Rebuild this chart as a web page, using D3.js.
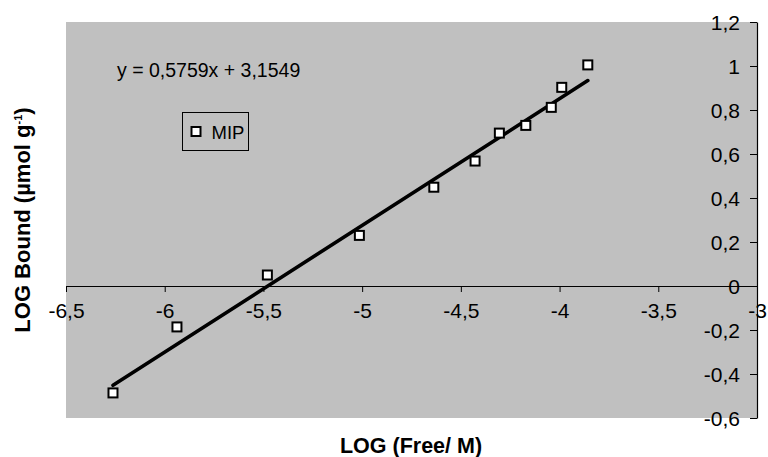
<!DOCTYPE html>
<html>
<head>
<meta charset="utf-8">
<script src="https://cdn.jsdelivr.net/npm/d3@7"></script>
<style>
  body { margin: 0; background: #fff; }
  svg { display: block; font-family: "Liberation Sans", Arial, sans-serif; }
</style>
</head>
<body>
<svg id="drawing_region"></svg>
<script>
// data
const logFree  = [-6.262, -5.938, -5.480, -5.014, -4.637, -4.428, -4.305, -4.171, -4.042, -3.989, -3.857];
const logBound = [-0.486, -0.186, 0.050, 0.230, 0.449, 0.568, 0.695, 0.730, 0.812, 0.903, 1.005];
const xTicks = [-6.5, -6, -5.5, -5, -4.5, -4, -3.5, -3];
const yTicks = [-0.6, -0.4, -0.2, 0, 0.2, 0.4, 0.6, 0.8, 1, 1.2];
const slope = 0.5759;
const intercept = 3.1549;
const seriesName = 'MIP';

const config = {
    width: 768,
    height: 457,
    margin: {top: 22, right: 11, bottom: 39, left: 66}
};

const svg = d3.select('#drawing_region')
    .attr('width', config.width)
    .attr('height', config.height);

const inner_width = config.width - config.margin.left - config.margin.right;
const inner_height = config.height - config.margin.top - config.margin.bottom;

const chart = svg.append('g')
    .attr('transform', `translate(${config.margin.left}, ${config.margin.top})`);

const xscale = d3.scaleLinear().domain([-6.5, -3]).range([0, inner_width]);
const yscale = d3.scaleLinear().domain([-0.6, 1.2]).range([inner_height, 0]);

const fmt = d => String(+d.toFixed(1)).replace('.', ',');

// plot area
chart.append('rect')
    .attr('width', inner_width)
    .attr('height', inner_height)
    .attr('fill', '#c0c0c0');

// x axis through y = 0
const xaxis = d3.axisBottom(xscale)
    .tickValues(xTicks)
    .tickSize(6)
    .tickSizeOuter(0)
    .tickFormat(fmt);

const xg = chart.append('g')
    .attr('transform', `translate(0, ${yscale(0)})`)
    .call(xaxis);
xg.select('.domain').attr('stroke', '#000').attr('stroke-width', 1.2);
xg.selectAll('.tick line').attr('stroke', '#000');
xg.selectAll('.tick text')
    .attr('y', 32)
    .attr('dy', 0)
    .style('font-size', '21px')
    .style('font-family', '"Liberation Sans", Arial, sans-serif')
    .attr('fill', '#000');

// y axis at x = -3 (right edge)
const yaxis = d3.axisLeft(yscale)
    .tickValues(yTicks)
    .tickSize(7)
    .tickSizeOuter(0)
    .tickFormat(fmt);

const yg = chart.append('g')
    .attr('transform', `translate(${xscale(-3)}, 0)`)
    .call(yaxis);
yg.select('.domain').attr('stroke', '#000').attr('stroke-width', 1.2);
yg.selectAll('.tick line').attr('stroke', '#000');
yg.selectAll('.tick text')
    .attr('x', -17)
    .attr('dy', '0.36em')
    .style('font-size', '21px')
    .style('font-family', '"Liberation Sans", Arial, sans-serif')
    .attr('fill', '#000');

// trend line
const xmin = d3.min(logFree), xmax = d3.max(logFree);
const trend = [xmin, xmax].map(x => [x, slope * x + intercept]);
chart.append('path')
    .attr('d', d3.line().x(d => xscale(d[0])).y(d => yscale(d[1]))(trend))
    .attr('stroke', '#000')
    .attr('stroke-width', 3.6)
    .attr('stroke-linecap', 'round')
    .attr('fill', 'none');

// points
const pts = logFree.map((x, i) => ({x: x, y: logBound[i]}));
chart.selectAll('rect.pt')
    .data(pts)
    .enter()
    .append('rect')
    .attr('class', 'pt')
    .attr('x', d => xscale(d.x) - 4.5)
    .attr('y', d => yscale(d.y) - 4.5)
    .attr('width', 9)
    .attr('height', 9)
    .attr('fill', '#fff')
    .attr('stroke', '#000')
    .attr('stroke-width', 2);

// equation
svg.append('text')
    .attr('x', 117)
    .attr('y', 77)
    .style('font-size', '19.5px')
    .text(`y = ${String(slope).replace('.', ',')}x + ${String(intercept).replace('.', ',')}`);

// legend
const legend = svg.append('g').attr('transform', 'translate(182.5, 112.5)');
legend.append('rect')
    .attr('width', 66)
    .attr('height', 38)
    .attr('fill', 'none')
    .attr('stroke', '#000')
    .attr('stroke-width', 1);
legend.append('rect')
    .attr('x', 9)
    .attr('y', 14.5)
    .attr('width', 9)
    .attr('height', 9)
    .attr('fill', '#fff')
    .attr('stroke', '#000')
    .attr('stroke-width', 2);
legend.append('text')
    .attr('x', 29)
    .attr('y', 26)
    .style('font-size', '18.5px')
    .text(seriesName);

// axis titles
svg.append('text')
    .attr('x', 411)
    .attr('y', 453)
    .attr('text-anchor', 'middle')
    .style('font-size', '21.5px')
    .style('font-weight', 'bold')
    .text('LOG (Free/ M)');

const ytitle = svg.append('text')
    .attr('transform', 'translate(30, 220) rotate(-90)')
    .attr('text-anchor', 'middle')
    .style('font-size', '22px')
    .style('font-weight', 'bold');
ytitle.append('tspan').text('LOG Bound (µmol g');
ytitle.append('tspan').attr('dy', -8).style('font-size', '11px').text('-1');
ytitle.append('tspan').attr('dy', 8).text(')');
</script>
</body>
</html>
